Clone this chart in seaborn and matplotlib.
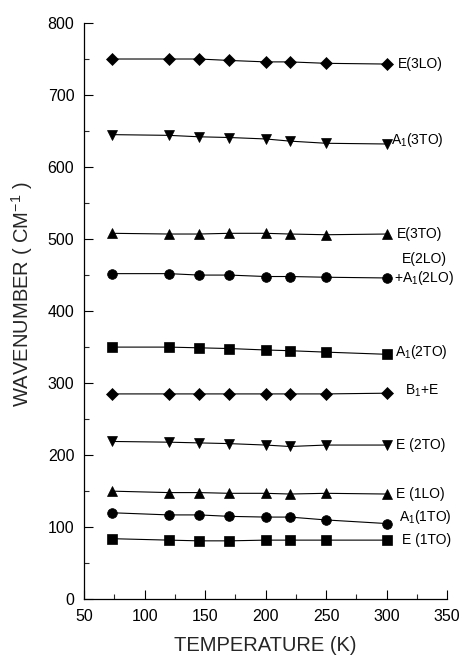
import numpy as np
import pandas as pd
import matplotlib
matplotlib.use("Agg")
import matplotlib.pyplot as plt
from matplotlib.ticker import MultipleLocator
import seaborn as sns

# Measurement temperatures (K)
temperature = [73, 120, 145, 170, 200, 220, 250, 300]

# Phonon mode frequencies (cm^-1) at each temperature
e_3lo = [750, 750, 750, 748, 746, 746, 744, 743]
a1_3to = [645, 644, 642, 641, 639, 636, 633, 632]
e_3to = [508, 507, 507, 508, 508, 507, 506, 507]
e_2lo = [452, 452, 450, 450, 448, 448, 447, 446]
a1_2to = [350, 350, 349, 348, 346, 345, 343, 340]
b1_e = [285, 285, 285, 285, 285, 285, 285, 286]
e_2to = [219, 218, 217, 216, 214, 212, 214, 214]
e_1lo = [150, 148, 148, 147, 147, 146, 147, 146]
a1_1to = [120, 117, 117, 115, 114, 114, 110, 105]
e_1to = [84, 82, 81, 81, 82, 82, 82, 82]

mode_names = ["E(3LO)", "A$_1$(3TO)", "E(3TO)", "E(2LO)\n+A$_1$(2LO)",
              "A$_1$(2TO)", "B$_1$+E", "E (2TO)", "E (1LO)",
              "A$_1$(1TO)", "E (1TO)"]
mode_values = [e_3lo, a1_3to, e_3to, e_2lo, a1_2to, b1_e, e_2to, e_1lo,
               a1_1to, e_1to]

# Drawing style per mode: marker, marker size, label offset (points), alignment
styles = [
    ("D", 6.5, (8, 0), "left"),
    ("v", 7.5, (3, 3), "left"),
    ("^", 7.5, (7, 0), "left"),
    ("o", 7.0, (27, 6), "center"),
    ("s", 6.5, (6, 2), "left"),
    ("D", 6.5, (13, 2), "left"),
    ("v", 7.5, (7, 0), "left"),
    ("^", 7.5, (7, 0), "left"),
    ("o", 7.0, (9, 5), "left"),
    ("s", 6.5, (11, 0), "left"),
]

sns.set_style("ticks")
plt.rcParams["font.family"] = ["Liberation Sans", "DejaVu Sans"]
plt.rcParams["mathtext.fontset"] = "custom"
plt.rcParams["mathtext.rm"] = "Liberation Sans"
plt.rcParams["mathtext.it"] = "Liberation Sans:italic"
plt.rcParams["mathtext.bf"] = "Liberation Sans:bold"
plt.rcParams["mathtext.default"] = "regular"

fig = plt.figure(figsize=(4.62, 6.57), dpi=100)
ax = fig.add_axes([0.182, 0.088, 0.786, 0.877])

for name, vals, (mk, ms, off, ha) in zip(mode_names, mode_values, styles):
    df = pd.DataFrame({"T": temperature, "w": vals})
    sns.lineplot(data=df, x="T", y="w", ax=ax, color="black", linewidth=0.8,
                 marker=mk, markersize=ms, markeredgecolor="black",
                 markerfacecolor="black", markeredgewidth=0.5)
    ax.annotate(name, xy=(temperature[-1], vals[-1]), xytext=off,
                textcoords="offset points", ha=ha, va="center",
                multialignment="center", fontsize=10, color="black")

ax.set_xlim(50, 350)
ax.set_ylim(0, 800)
ax.xaxis.set_major_locator(MultipleLocator(50))
ax.xaxis.set_minor_locator(MultipleLocator(25))
ax.yaxis.set_major_locator(MultipleLocator(100))
ax.yaxis.set_minor_locator(MultipleLocator(50))
ax.tick_params(axis="both", which="major", direction="in", length=6.5,
               width=0.8, labelsize=11.5, colors="black", pad=7)
ax.tick_params(axis="both", which="minor", direction="in", length=3.5,
               width=0.8)
for side in ("top", "right"):
    ax.spines[side].set_visible(False)
for side in ("left", "bottom"):
    ax.spines[side].set_linewidth(0.9)
    ax.spines[side].set_color("black")

ax.set_xlabel("TEMPERATURE (K)", fontsize=14.5, labelpad=9)
ax.set_ylabel("WAVENUMBER ( CM$^{-1}$ )", fontsize=14.5, labelpad=14)
ax.yaxis.set_label_coords(-0.135, 0.53)

fig.savefig("out.png", dpi=100)
